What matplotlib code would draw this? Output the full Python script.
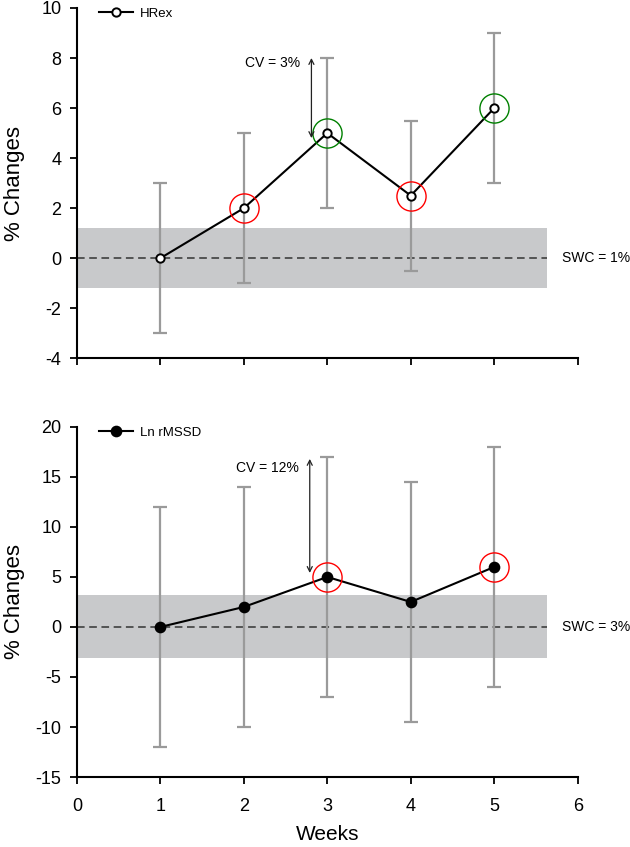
import matplotlib
matplotlib.use("Agg")
import matplotlib.pyplot as plt
import numpy as np

plt.rcParams['font.family'] = ['Liberation Sans', 'DejaVu Sans']
plt.rcParams['axes.unicode_minus'] = False

weeks = [1, 2, 3, 4, 5]
hrex = [0, 2, 5, 2.5, 6]
hrex_upper = [3, 5, 8, 5.5, 9]
hrex_lower = [-3, -1, 2, -0.5, 3]
hrex_circle_colors = [None, 'red', 'green', 'red', 'green']

rmssd = [0, 2, 5, 2.5, 6]
rmssd_upper = [12, 14, 17, 14.5, 18]
rmssd_lower = [-12, -10, -7, -9.5, -6]
rmssd_circle_colors = [None, None, 'red', None, 'red']

swc_top = 1.2
swc_bottom = 3.15
band_end = 5.63

fig = plt.figure(figsize=(6.3, 8.47), dpi=100)
ax1 = fig.add_axes([0.122, 0.577, 0.795, 0.4136])
ax2 = fig.add_axes([0.122, 0.0826, 0.795, 0.4134])

def panel(ax, vals, up, lo, ccols, swc, swc_label, label, filled, ylim, yticks, cvtext, cvx, cvy0, cvy1, cvty):
    vals = np.array(vals); up = np.array(up); lo = np.array(lo)
    ax.fill_between([0, band_end], [-swc, -swc], [swc, swc], color='#c8c9cb', lw=0, zorder=1)
    ax.plot([0, band_end], [0, 0], ls=(0, (5, 3)), color='#333333', lw=1.1, zorder=2)
    ax.errorbar(weeks, vals, yerr=[vals - lo, up - vals], fmt='none', ecolor='#9a9a9a',
                elinewidth=1.6, capsize=5, capthick=1.6, zorder=3)
    ax.plot(weeks, vals, '-o', color='black', lw=1.5, ms=7 if filled else 6,
            mfc='black' if filled else 'white', mec='black', mew=1.4, zorder=5, label=label)
    for w, v, c in zip(weeks, vals, ccols):
        if c:
            ax.plot([w], [v], 'o', ms=21, mfc='none', mec=c, mew=1.0, zorder=6)
    ax.annotate('', xy=(cvx, cvy1), xytext=(cvx, cvy0),
                arrowprops=dict(arrowstyle='<->', color='#222222', lw=0.9,
                                shrinkA=0, shrinkB=0, mutation_scale=9), zorder=7)
    ax.text(cvx - 0.13, cvty, cvtext, ha='right', va='center', fontsize=10)
    ax.text(5.81, 0, swc_label, ha='left', va='center', fontsize=10)
    ax.set_xlim(0, 6)
    ax.set_ylim(*ylim)
    ax.set_yticks(yticks)
    ax.set_xticks(range(7))
    for s in ['top', 'right']:
        ax.spines[s].set_visible(False)
    for s in ['left', 'bottom']:
        ax.spines[s].set_linewidth(1.5)
    ax.tick_params(axis='both', direction='out', length=5, width=1.3, labelsize=13)
    ax.tick_params(axis='y', pad=6)
    ax.tick_params(axis='x', pad=10)
    ax.set_ylabel('% Changes', fontsize=16)
    ax.yaxis.set_label_coords(-0.103, 0.5)
    ax.legend(loc='upper left', bbox_to_anchor=(0.02, 1.035), frameon=False,
              fontsize=9.5, handlelength=2.6, handletextpad=0.5)

panel(ax1, hrex, hrex_upper, hrex_lower, hrex_circle_colors, swc_top, 'SWC = 1%', 'HRex', False,
      (-4, 10), range(-4, 11, 2), 'CV = 3%', 2.81, 8.0, 4.8, 7.8)
panel(ax2, rmssd, rmssd_upper, rmssd_lower, rmssd_circle_colors, swc_bottom, 'SWC = 3%', 'Ln rMSSD', True,
      (-15, 20), range(-15, 21, 5), 'CV = 12%', 2.79, 16.8, 5.4, 15.9)

ax1.tick_params(axis='x', labelbottom=False)
ax2.set_xlabel('Weeks', fontsize=15, labelpad=7)

fig.savefig('out.png', dpi=100)
